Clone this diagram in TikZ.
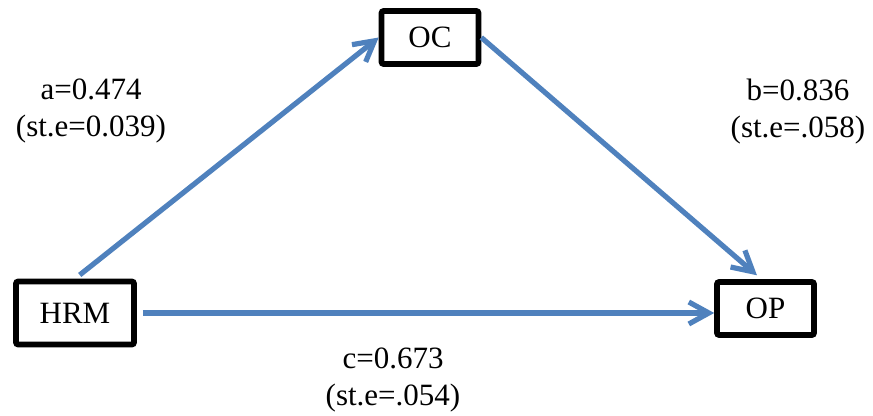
\documentclass[tikz,border=0pt]{standalone}
\usepackage{fontspec}
\setmainfont{Liberation Serif}
\usetikzlibrary{arrows.meta}
\definecolor{pathblue}{HTML}{4F81BD}
\begin{document}
\begin{tikzpicture}[
        x=0.5pt, y=-0.5pt,
        var/.style={rectangle, draw, line width=2.8pt, rounded corners=1pt, inner sep=0pt, minimum width=48.5pt, minimum height=26.5pt, font=\fontsize{15.5}{18.5}\selectfont},
        coef/.style={align=center, inner sep=0pt, font=\fontsize{15.5}{18.5}\selectfont},
        arrow/.style={draw=pathblue, line width=2.6pt, -{Straight Barb[length=10pt, width=11pt]}}
    ]
        \useasboundingbox (0,0) rectangle (873,416);

        % Variables
        \node[var, minimum width=59pt, minimum height=31.5pt] (HRM) at (75, 313) {HRM};
        \node[var] (OC) at (430, 37.5) {OC};
        \node[var] (OP) at (765.5, 308.5) {OP};

        % Paths
        \draw[arrow, shorten <=3pt] (HRM.north) -- (OC.west);
        \draw[arrow, shorten >=3pt] (OC.east) -- ([xshift=-2pt]OP.north);
        \draw[arrow, shorten <=3pt] (HRM.east) -- (HRM.east -| OP.west);

        % Coefficients
        \node[coef] (coefA) at (91, 111) {a=0.474\\(st.e=0.039)};
        \node[coef] (coefB) at (798, 112) {b=0.836\\(st.e=.058)};
        \node[coef] (coefC) at (393, 380) {c=0.673\\(st.e=.054)};
    \end{tikzpicture}
\end{document}
